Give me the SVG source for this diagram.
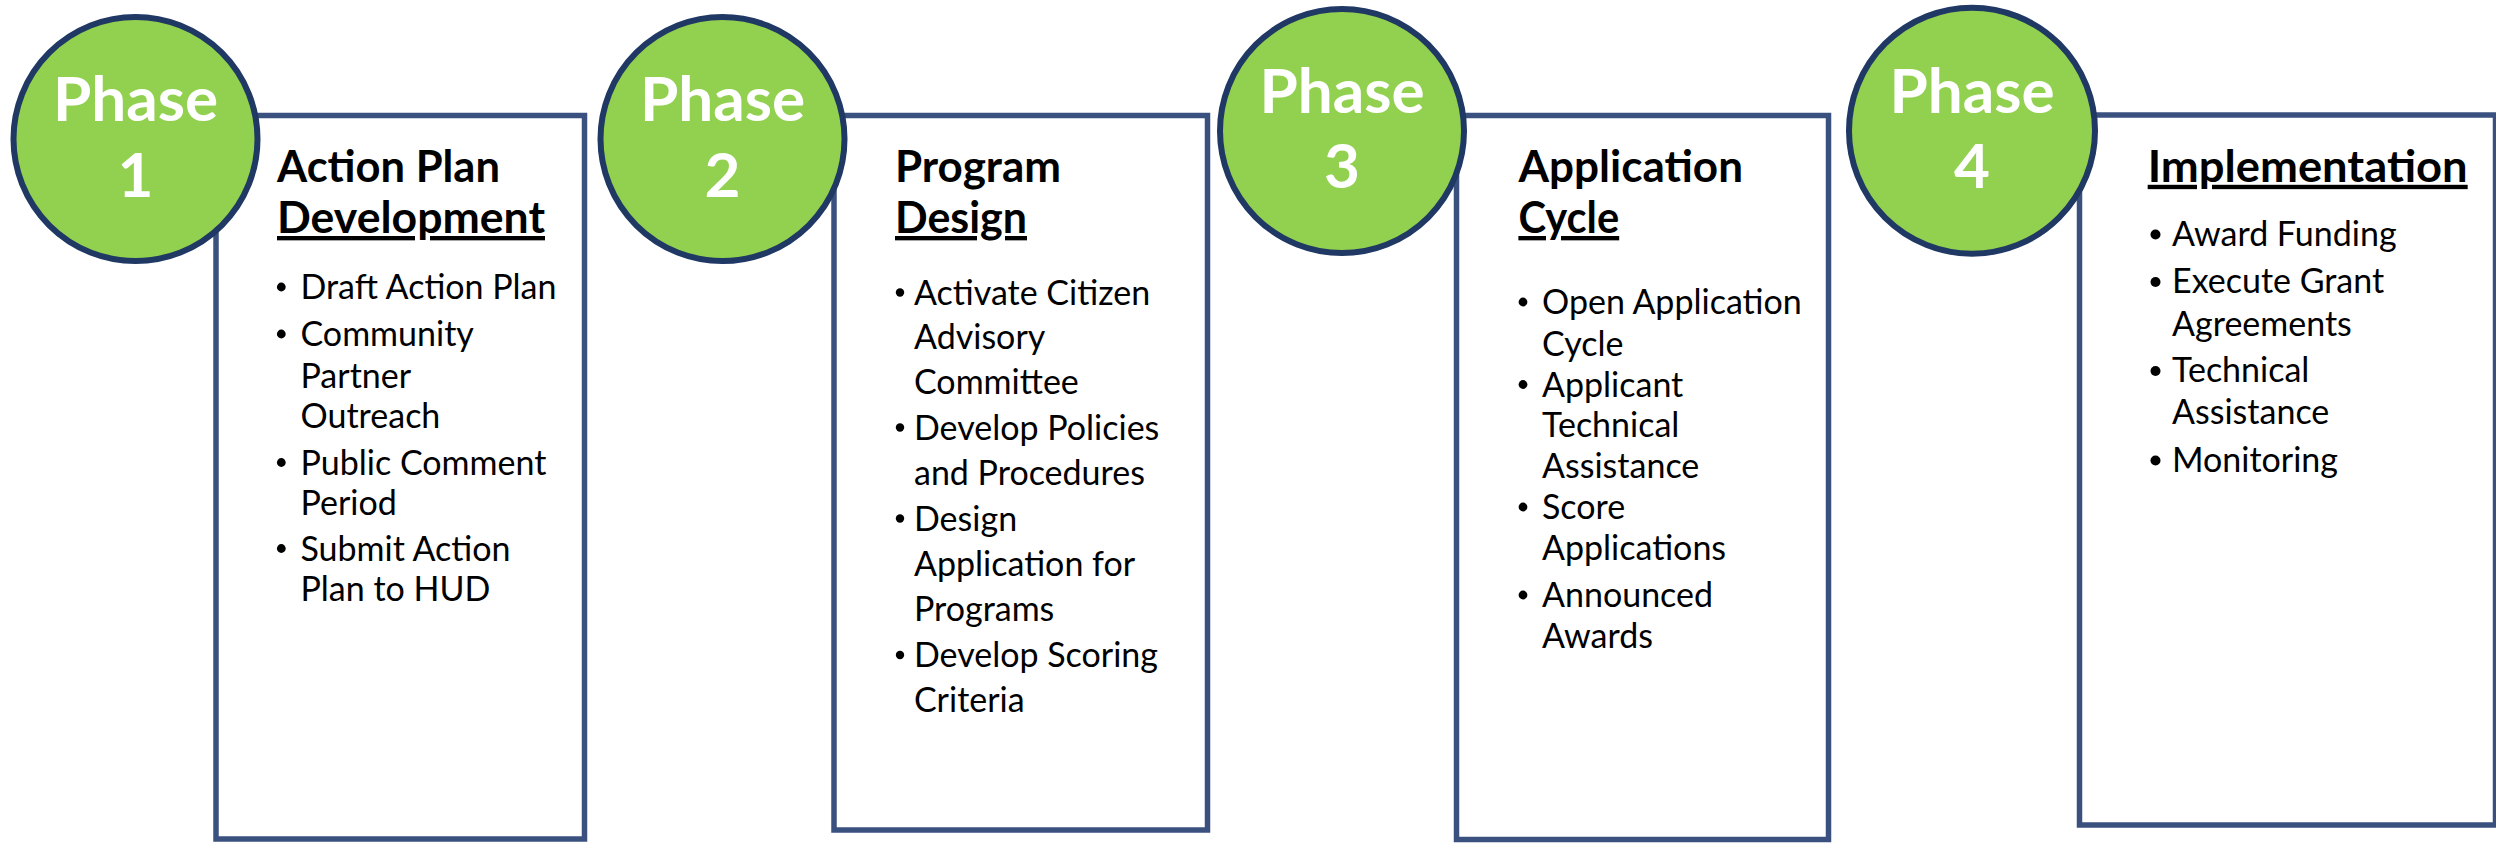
<svg xmlns="http://www.w3.org/2000/svg" width="2496" height="843" viewBox="0 0 2496 843">
<style>
.box{fill:#ffffff;stroke:#3A5180;stroke-width:5.5}
.ring{fill:#92D050;stroke:#203864;stroke-width:6}
.ph{font-family:Lato,"Open Sans",sans-serif;font-weight:700;font-size:62px;fill:#ffffff;text-anchor:middle}
.ttl{font-family:Lato,"Open Sans",sans-serif;font-weight:700;font-size:43.5px;fill:#000000}
.u{text-decoration:underline}
.it{font-family:Lato,"Open Sans",sans-serif;font-size:34px;fill:#000000}
.dot{fill:#000000}
</style>
<rect width="2496" height="843" fill="#ffffff"/>
<g id="phase1">
<rect class="box" x="216" y="115.5" width="368.5" height="723.5"/>
<circle class="ring" cx="135.5" cy="139" r="122"/>
<text class="ph" x="135.5" y="120.6">Phase</text>
<text class="ph" x="135.5" y="196.5">1</text>
<text class="ttl" x="277" y="182" textLength="223" lengthAdjust="spacingAndGlyphs">Action Plan</text>
<text class="ttl u" x="277" y="233" textLength="268" lengthAdjust="spacingAndGlyphs">Development</text>
<circle class="dot" cx="281.3" cy="287" r="4.4"/>
<circle class="dot" cx="281.3" cy="334" r="4.4"/>
<circle class="dot" cx="281.3" cy="462.5" r="4.4"/>
<circle class="dot" cx="281.3" cy="548.5" r="4.4"/>
<text class="it" x="300.5" y="299.3">Draft Action Plan</text>
<text class="it" x="300.5" y="346">Community</text>
<text class="it" x="300.5" y="387.5">Partner</text>
<text class="it" x="300.5" y="428">Outreach</text>
<text class="it" x="300.5" y="474.5">Public Comment</text>
<text class="it" x="300.5" y="515">Period</text>
<text class="it" x="300.5" y="560.7">Submit Action</text>
<text class="it" x="300.5" y="601">Plan to HUD</text>
</g>
<g id="phase2">
<rect class="box" x="834" y="115.5" width="373.5" height="714.5"/>
<circle class="ring" cx="722.5" cy="139" r="122"/>
<text class="ph" x="722.5" y="120.6">Phase</text>
<text class="ph" x="722.5" y="196.5">2</text>
<text class="ttl" x="895" y="182" textLength="166" lengthAdjust="spacingAndGlyphs">Program</text>
<text class="ttl u" x="895" y="233" textLength="132" lengthAdjust="spacingAndGlyphs">Design</text>
<circle class="dot" cx="900" cy="292.5" r="4.2"/>
<circle class="dot" cx="900" cy="427.5" r="4.2"/>
<circle class="dot" cx="900" cy="518.5" r="4.2"/>
<circle class="dot" cx="900" cy="655" r="4.2"/>
<text class="it" x="914" y="304.5">Activate Citizen</text>
<text class="it" x="914" y="349">Advisory</text>
<text class="it" x="914" y="394">Committee</text>
<text class="it" x="914" y="439.5">Develop Policies</text>
<text class="it" x="914" y="485">and Procedures</text>
<text class="it" x="914" y="530.5">Design</text>
<text class="it" x="914" y="576">Application for</text>
<text class="it" x="914" y="621">Programs</text>
<text class="it" x="914" y="667">Develop Scoring</text>
<text class="it" x="914" y="712">Criteria</text>
</g>
<g id="phase3">
<rect class="box" x="1456.5" y="115.5" width="372" height="724"/>
<circle class="ring" cx="1342" cy="131" r="122"/>
<text class="ph" x="1342" y="112.7">Phase</text>
<text class="ph" x="1342" y="187.8">3</text>
<text class="ttl" x="1518.4" y="182" textLength="224.6" lengthAdjust="spacingAndGlyphs">Application</text>
<text class="ttl u" x="1518.4" y="233" textLength="100.8" lengthAdjust="spacingAndGlyphs">Cycle</text>
<circle class="dot" cx="1523" cy="302" r="4.4"/>
<circle class="dot" cx="1523" cy="384.5" r="4.4"/>
<circle class="dot" cx="1523" cy="507" r="4.4"/>
<circle class="dot" cx="1523" cy="595" r="4.4"/>
<text class="it" x="1542" y="314">Open Application</text>
<text class="it" x="1542" y="356">Cycle</text>
<text class="it" x="1542" y="396.5">Applicant</text>
<text class="it" x="1542" y="437">Technical</text>
<text class="it" x="1542" y="478">Assistance</text>
<text class="it" x="1542" y="519">Score</text>
<text class="it" x="1542" y="559.5">Applications</text>
<text class="it" x="1542" y="607">Announced</text>
<text class="it" x="1542" y="648">Awards</text>
</g>
<g id="phase4">
<rect class="box" x="2079.5" y="115" width="416" height="710"/>
<circle class="ring" cx="1972" cy="130.7" r="123"/>
<text class="ph" x="1972" y="112.6">Phase</text>
<text class="ph" x="1972" y="188">4</text>
<text class="ttl u" x="2147.7" y="181.8" textLength="320" lengthAdjust="spacingAndGlyphs">Implementation</text>
<circle class="dot" cx="2155.5" cy="234.5" r="5"/>
<circle class="dot" cx="2155.5" cy="282" r="5"/>
<circle class="dot" cx="2155.5" cy="371" r="5"/>
<circle class="dot" cx="2155.5" cy="460.5" r="5"/>
<text class="it" x="2172" y="245.5">Award Funding</text>
<text class="it" x="2172" y="293">Execute Grant</text>
<text class="it" x="2172" y="335.6">Agreements</text>
<text class="it" x="2172" y="382">Technical</text>
<text class="it" x="2172" y="424">Assistance</text>
<text class="it" x="2172" y="471.5">Monitoring</text>
</g>
<g id="connectors"/>
</svg>
